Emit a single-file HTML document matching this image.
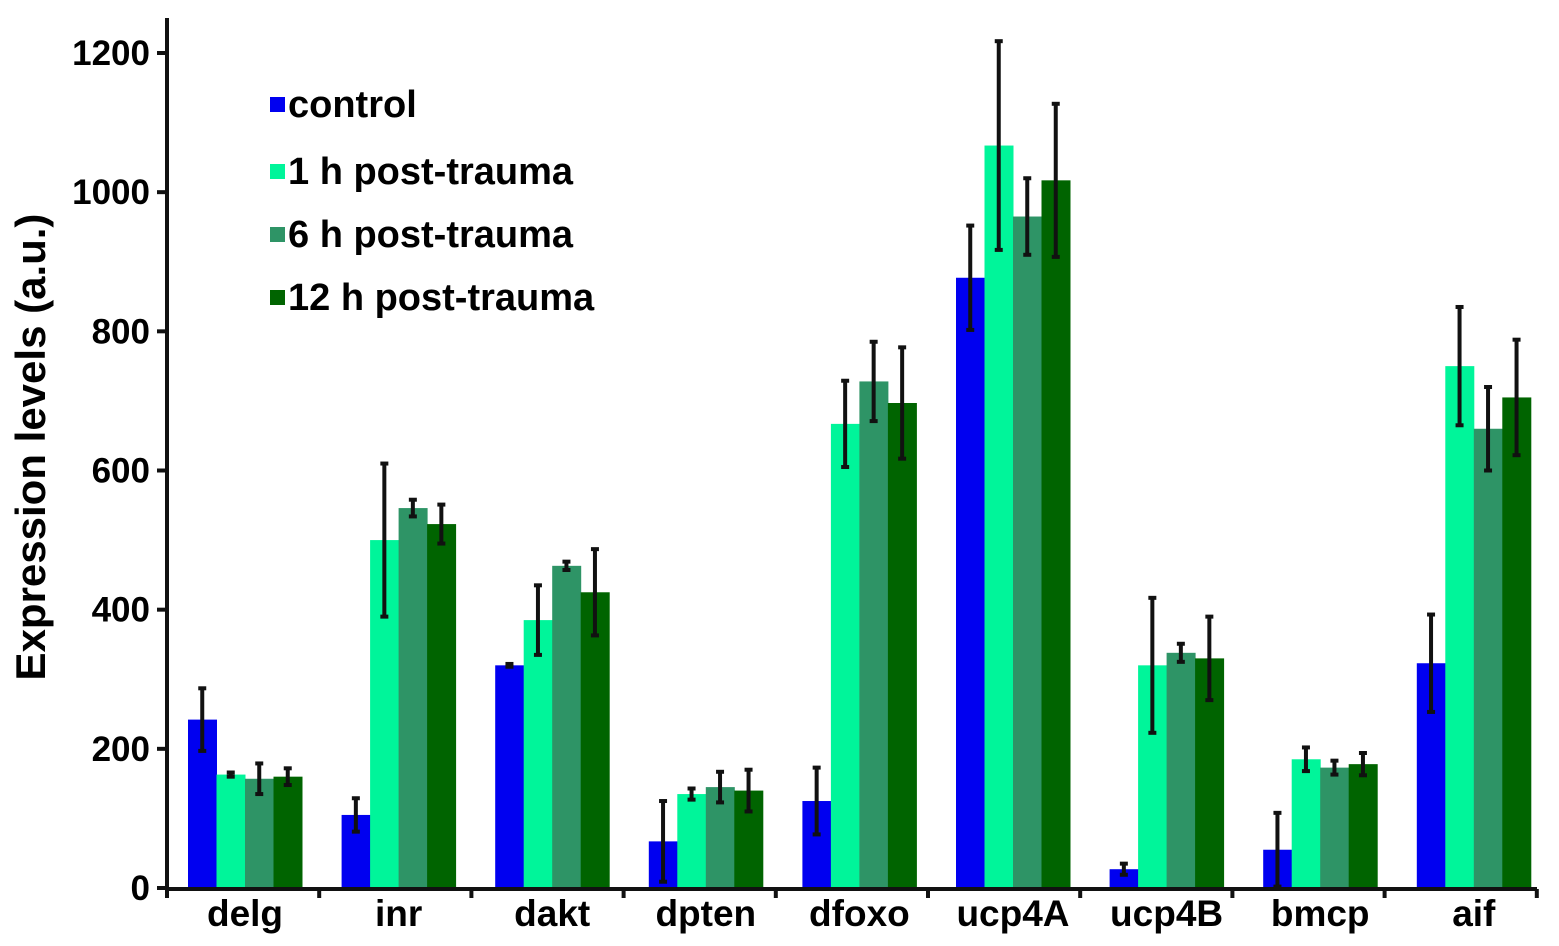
<!DOCTYPE html>
<html><head><meta charset="utf-8"><style>
body{margin:0;background:#fff;}
svg{display:block;font-family:"Liberation Sans",Arial,sans-serif;font-weight:bold;}
</style></head><body>
<svg id="chart" width="1559" height="946"></svg>
<script>
const categories=["delg","inr","dakt","dpten","dfoxo","ucp4A","ucp4B","bmcp","aif"];
const seriesNames=["control","1 h post-trauma","6 h post-trauma","12 h post-trauma"];
const control=[242,105,320,67,125,877,27,55,323];
const h1=[163,500,385,135,667,1067,320,185,750];
const h6=[157,546,463,145,728,965,338,173,660];
const h12=[160,523,425,140,697,1017,330,178,705];
const controlErr=[45,24,2,58,48,75,8,53,70];
const h1Err=[3,110,50,8,62,150,97,17,85];
const h6Err=[22,12,6,22,57,55,13,10,60];
const h12Err=[12,28,62,30,80,110,60,16,83];
const yTicks=[0,200,400,600,800,1000,1200];
const colors=["#0000f0","#00f59a","#2e9466","#006400"];
const NS="http://www.w3.org/2000/svg";
const svg=document.getElementById('chart');
const y0=888,pxPer=(888-53)/1200;
const y=v=>y0-v*pxPer;
const groupX=i=>188+i*153.6;
const barW=28.5;
function mk(t,a){const e=document.createElementNS(NS,t);for(const k in a)e.setAttribute(k,a[k]);svg.appendChild(e);return e;}
const all=[control,h1,h6,h12],errs=[controlErr,h1Err,h6Err,h12Err];
const sn=["control","1h","6h","12h"];
categories.forEach((c,i)=>{
  all.forEach((s,j)=>{
    const x=groupX(i)+j*barW;
    const r=mk('rect',{x:x,y:y(s[i]),width:barW+0.5,height:y0-y(s[i]),fill:colors[j]});
    
    
  });
  all.forEach((s,j)=>{
    const cx=groupX(i)+j*barW+barW/2;
    const g=mk('g',{stroke:'#111','stroke-width':4});
    
    
    const lo=y(s[i]-errs[j][i]),hi=y(s[i]+errs[j][i]);
    const l=document.createElementNS(NS,'line');l.setAttribute('x1',cx);l.setAttribute('x2',cx);l.setAttribute('y1',lo);l.setAttribute('y2',hi);g.appendChild(l);
    [lo,hi].forEach(yy=>{const t=document.createElementNS(NS,'line');t.setAttribute('x1',cx-4);t.setAttribute('x2',cx+4);t.setAttribute('y1',yy);t.setAttribute('y2',yy);g.appendChild(t);});
  });
  const t=mk('text',{x:groupX(i)+2*barW,y:926,'text-anchor':'middle','font-size':37});
  t.textContent=c;
  
  
});
const ya=mk('line',{x1:167,x2:167,y1:18,y2:892,stroke:'#111','stroke-width':4});


const xa=mk('line',{x1:165,x2:1537,y1:889,y2:889,stroke:'#111','stroke-width':4});


for(let i=0;i<=9;i++){const x=167+i*152.2;const tk=mk('line',{x1:x,x2:x,y1:889,y2:898,stroke:'#111','stroke-width':4});

}
yTicks.forEach(v=>{
  const tk=mk('line',{x1:157,x2:167,y1:y(v),y2:y(v),stroke:'#111','stroke-width':4});
  
  
  const t=mk('text',{x:150,y:y(v)+12,'text-anchor':'end','font-size':35});
  t.textContent=v;
  
  
});
const yt=mk('text',{x:45,y:447,'text-anchor':'middle','font-size':42,transform:'rotate(-90 45 447)'});
yt.textContent='Expression levels (a.u.)';


const ly=[105,172,235,298];
seriesNames.forEach((n,j)=>{
  const sw=mk('rect',{x:270,y:ly[j]-8,width:15,height:15,fill:colors[j]});
  
  
  const t=mk('text',{x:288,y:ly[j]+12,'font-size':38});
  t.textContent=n;
  
  
});
</script>
</body></html>
